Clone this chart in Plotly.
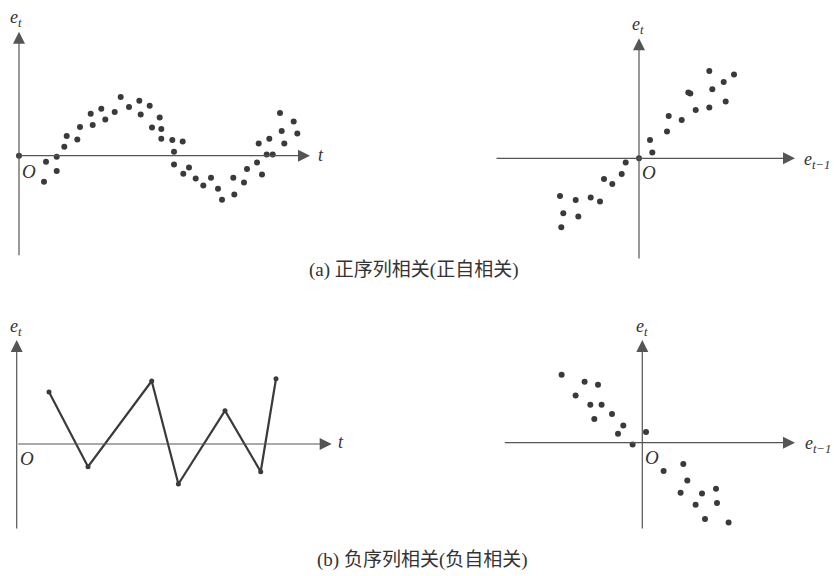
import plotly.graph_objects as go

# (a) positively autocorrelated residual series
a_t = [0, 27, 25, 37.7, 37.7, 45.3, 47.7, 58.3, 61, 71.7, 73.7, 82.3, 86.3, 95.7,
       101.7, 110, 120.3, 121.7, 130.7, 133, 140.7, 142.3, 142.3, 153.3, 155, 163.7,
       155, 164.3, 170, 176.7, 184.3, 192, 199, 203, 214.3, 215.3, 225, 228, 238,
       243, 239.7, 247.7, 250.3, 253.7, 261, 262.7, 265.3, 274.7, 278.3]
a_e = [0, -6, -26, -1, -15.3, 9, 19.7, 16.3, 28.7, 42, 30.7, 47, 36.3, 43.7,
       58.7, 48.7, 55, 41.3, 50, 28.3, 38.3, 26.7, 17, 15.7, 4, 14.3,
       -8.7, -18, -11.7, -22.7, -29.7, -22, -33, -44, -22, -38.7, -26.7, -13.3, -6.7,
       -18.7, 12.3, 1.3, 17, 1.3, 42.7, 24.7, 12.3, 34.3, 22.3]

# (a) e_t against e_{t-1}
a_lag = [0, -13.3, -17.3, -35, -26.7, -39, -48.3, -63.3, -79, -75.7, -60.7, -77.7,
         11, 13.3, 28, 29.7, 42.7, 49.3, 51.3, 56.7, 70.3, 73.3, 70.3, 84.7, 86.7, 95]
a_cur = [0, -4.3, -15.7, -20.7, -25.7, -43.3, -39.3, -41.7, -37.7, -55, -58.3, -69,
         18.3, 5.7, 26.7, 42.3, 38.3, 65.7, 64.7, 48.3, 87.3, 69, 50.7, 76.3, 56.7, 83.7]

# (b) negatively autocorrelated residual series
b_t = [32.3, 71.3, 135, 161.7, 208.3, 244, 259.3]
b_e = [52, -22.7, 63, -40, 33.3, -27.7, 65.3]

# (b) e_t against e_{t-1}
b_lag = [-80.7, -57.7, -44.3, -66.7, -52, -40.7, -48, -30.3, -19, -24.3, -9.7, 3.7,
         21.3, 41, 45, 38.3, 59.7, 73.7, 53.3, 74.7, 62.7, 86.3]
b_cur = [68, 61, 58, 47.3, 38, 38, 23.7, 28.7, 17.3, 9, -1.7, 10.7,
         -28.3, -21.3, -37.7, -50, -50.7, -46, -62, -60.3, -76.3, -79.7]

captions = ["(a) 正序列相关(正自相关)", "(b) 负序列相关(负自相关)"]

W, H = 834, 576
INK = "#3a3a3a"
AXIS = "#555555"
TEXT = "#333333"
SERIF = "Liberation Serif, DejaVu Serif, serif"
CJK = "Liberation Serif, Noto Sans CJK SC, serif"

# Each panel: pixel box (x0, x1, y0, y1), origin pixel, axis extents (xmin, xmax, ymin, ymax),
# and label centre points in pixels
panels = [
    dict(box=(0, 340, 0, 262), origin=(19, 155.7), ext=(0, 291, -101, 124),
         ylab="e<sub>t</sub>", xlab="t",
         ylab_px=(16, 18), xlab_px=(321, 155), o_px=(29, 171)),
    dict(box=(480, 834, 0, 262), origin=(639, 158.3), ext=(-144, 156, -101.7, 120),
         ylab="e<sub>t</sub>", xlab="e<sub>t−1</sub>",
         ylab_px=(637.5, 26), xlab_px=(817, 160), o_px=(649, 172)),
    dict(box=(0, 350, 300, 540), origin=(16.7, 444), ext=(0, 315, -86, 104),
         ylab="e<sub>t</sub>", xlab="t",
         ylab_px=(15.7, 327), xlab_px=(341, 442), o_px=(27, 458)),
    dict(box=(480, 834, 300, 540), origin=(642.3, 442.7), ext=(-139, 152.7, -87.3, 102.7),
         ylab="e<sub>t</sub>", xlab="e<sub>t−1</sub>",
         ylab_px=(642.3, 327), xlab_px=(818, 444), o_px=(652, 457)),
]

fig = go.Figure()
layout = dict(
    width=W, height=H, margin=dict(l=0, r=0, t=0, b=0),
    paper_bgcolor="white", plot_bgcolor="rgba(0,0,0,0)", showlegend=False,
)
annotations = []

for i, p in enumerate(panels):
    n = "" if i == 0 else str(i + 1)
    xr, yr = "x" + n, "y" + n
    bx0, bx1, by0, by1 = p["box"]
    ox, oy = p["origin"]
    layout["xaxis" + n] = dict(domain=[bx0 / W, bx1 / W], range=[bx0 - ox, bx1 - ox],
                               visible=False, fixedrange=True, anchor=yr)
    layout["yaxis" + n] = dict(domain=[1 - by1 / H, 1 - by0 / H], range=[oy - by1, oy - by0],
                               visible=False, fixedrange=True, anchor=xr)
    xmin, xmax, ymin, ymax = p["ext"]
    # coordinate axes drawn as arrows meeting at the origin
    for (x0, y0, x1, y1) in ((xmin, 0, xmax, 0), (0, ymin, 0, ymax)):
        annotations.append(dict(x=x1, y=y1, ax=x0, ay=y0, xref=xr, yref=yr,
                                axref=xr, ayref=yr, showarrow=True, arrowhead=2,
                                arrowsize=2.0, arrowwidth=1.2, arrowcolor=AXIS,
                                standoff=0, text=""))
    for txt, (px, py), size in ((p["ylab"], p["ylab_px"], 18), (p["xlab"], p["xlab_px"], 18),
                                ("O", p["o_px"], 19)):
        annotations.append(dict(x=px / W, y=1 - py / H, xref="paper", yref="paper",
                                xanchor="center", yanchor="middle",
                                text=txt, showarrow=False,
                                font=dict(family=SERIF, size=size, color=TEXT,
                                          style="italic")))

fig.add_trace(go.Scatter(x=a_t, y=a_e, mode="markers", xaxis="x", yaxis="y",
                         marker=dict(size=6, color=INK)))
fig.add_trace(go.Scatter(x=a_lag, y=a_cur, mode="markers", xaxis="x2", yaxis="y2",
                         marker=dict(size=6, color=INK)))
fig.add_trace(go.Scatter(x=b_t, y=b_e, mode="lines+markers", xaxis="x3", yaxis="y3",
                         line=dict(color=INK, width=2.2), marker=dict(size=5, color=INK)))
fig.add_trace(go.Scatter(x=b_lag, y=b_cur, mode="markers", xaxis="x4", yaxis="y4",
                         marker=dict(size=6, color=INK)))

for cap, (cx, cy) in zip(captions, [(414, 270), (423, 560)]):
    annotations.append(dict(x=cx / W, y=1 - cy / H, xref="paper", yref="paper", text=cap,
                            xanchor="center", yanchor="middle",
                            showarrow=False, font=dict(family=CJK, size=19, color=TEXT)))

layout["annotations"] = annotations
fig.update_layout(**layout)
fig.write_html("out.html")
